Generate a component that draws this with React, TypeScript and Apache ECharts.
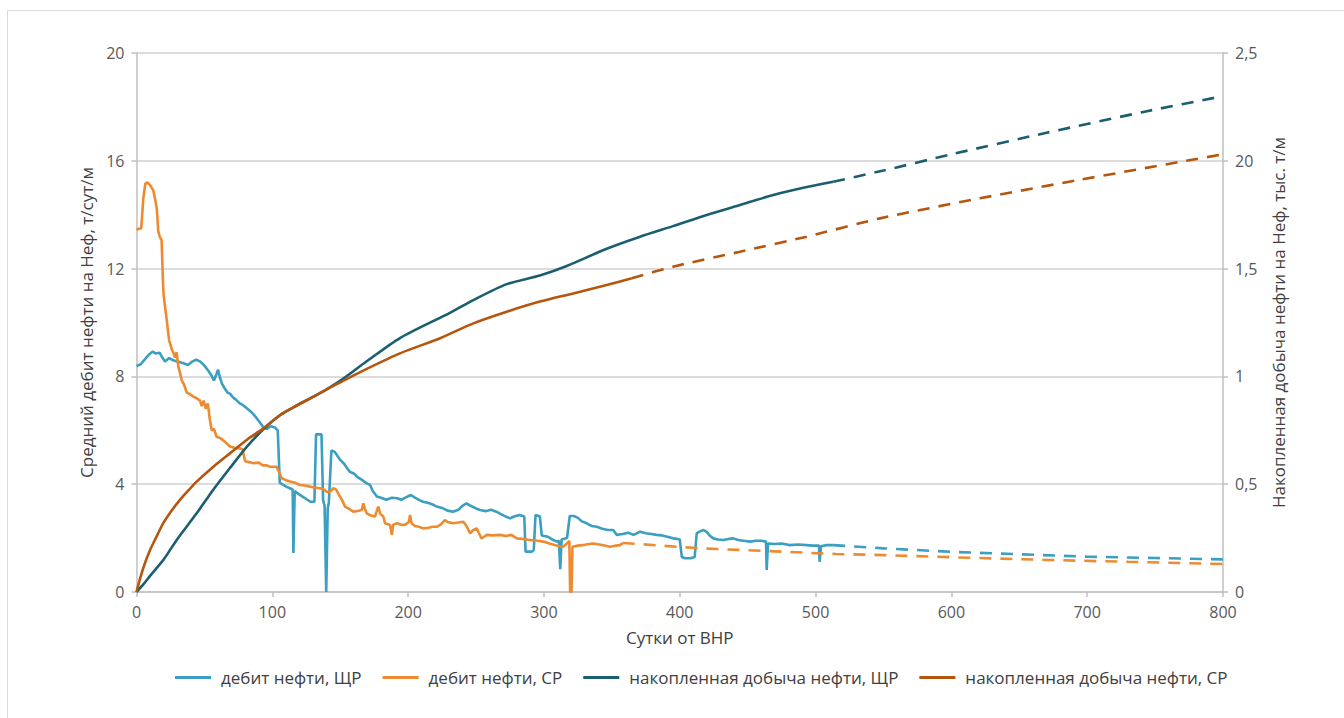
import React, { useEffect, useRef } from "react";
import * as echarts from "echarts";

const xTicks = { min: 0, max: 800, interval: 100 };
const rightTickLabels = ["0", "0,5", "1", "1,5", "20", "2,5"];

const seriesNames = [
  "дебит нефти, ЩР",
  "дебит нефти, СР",
  "накопленная добыча нефти, ЩР",
  "накопленная добыча нефти, СР",
];

// дебит нефти, ЩР (т/сут/м) — фактические данные
const rateShrActual: [number, number][] = [
  [0, 8.38], [3, 8.45], [6, 8.62], [9, 8.8], [12, 8.92], [14, 8.85], [17, 8.88], [19, 8.7],
  [21, 8.55], [24, 8.68], [27, 8.6], [30, 8.55], [34, 8.5], [38, 8.42], [41, 8.55], [44, 8.62],
  [47, 8.55], [50, 8.4], [53, 8.2], [55, 8.05], [57, 7.85], [59, 8.1], [60, 8.25], [61.5, 7.95],
  [63, 7.72], [65, 7.55], [67, 7.4], [69, 7.35], [71, 7.22], [73, 7.15], [76, 7.0], [78, 6.95],
  [81, 6.83], [84, 6.7], [86, 6.6], [88.5, 6.45], [91, 6.28], [93.5, 6.1], [96, 6.05], [99, 6.15],
  [102, 6.1], [104, 6.0], [105.5, 4.05], [108, 3.98], [110.5, 3.9], [113, 3.85], [115, 3.8],
  [115.5, 1.45], [116.5, 3.75], [119, 3.65], [122, 3.55], [125, 3.45], [128, 3.35], [131, 3.35],
  [132.2, 5.85], [136.2, 5.85], [137.4, 3.4], [138.5, 3.2], [139.7, 0], [140.8, 3.1], [141.6, 3.3],
  [143.5, 5.25], [146, 5.2], [148, 5.05], [150, 4.9], [153, 4.75], [155, 4.6], [157, 4.46],
  [160, 4.4], [163, 4.25], [166, 4.16], [169, 4.05], [172, 3.97], [174, 3.75], [177, 3.54],
  [180, 3.5], [184, 3.42], [188, 3.5], [192, 3.48], [195, 3.42], [198, 3.5], [202, 3.6],
  [205, 3.5], [208, 3.42], [211, 3.35], [215, 3.3], [218, 3.25], [221, 3.17], [225, 3.12],
  [229, 3.02], [233, 2.98], [237, 3.05], [240, 3.2], [243, 3.29], [246, 3.2], [250, 3.1],
  [253, 3.04], [257, 3.0], [261, 3.05], [265, 2.98], [268, 2.9], [272, 2.8], [275, 2.73],
  [278, 2.8], [282, 2.86], [285.5, 2.8], [286.5, 1.5], [291, 1.5], [292.5, 1.55], [293.8, 2.86],
  [297, 2.8], [298.4, 2.1], [303, 2.05], [306, 1.95], [309.5, 1.87], [311, 1.9], [312, 0.85],
  [313, 1.95], [317, 2.0], [319, 2.82], [322, 2.82], [325, 2.75], [328, 2.62], [331.5, 2.55],
  [335, 2.45], [339, 2.42], [343, 2.35], [347, 2.3], [351, 2.3], [353.5, 2.12], [358, 2.15],
  [362, 2.2], [366, 2.12], [370.8, 2.24], [375, 2.18], [379, 2.15], [383, 2.12], [387, 2.1],
  [391, 2.05], [395, 1.99], [398, 1.97], [400, 1.95], [401.5, 1.3], [404, 1.25], [408, 1.25],
  [411, 1.3], [412.5, 2.18], [415, 2.25], [417.5, 2.3], [420, 2.22], [422, 2.1], [424.7, 1.99],
  [428, 1.95], [432, 1.93], [436, 1.97], [439.5, 1.99], [443, 1.93], [447, 1.9], [451.8, 1.87],
  [456, 1.9], [460, 1.9], [463.5, 1.87], [464, 0.82], [465, 1.8], [470, 1.78], [475, 1.8],
  [481, 1.74], [487, 1.76], [493.5, 1.74], [498, 1.72], [502.5, 1.72], [503, 1.12], [504, 1.7],
  [508, 1.74], [513, 1.74],
];
// дебит нефти, ЩР — прогноз
const rateShrForecast: [number, number][] = [
  [513, 1.74], [550, 1.62], [600, 1.49], [650, 1.4], [700, 1.31], [750, 1.26], [800, 1.21],
];

// дебит нефти, СР — фактические данные
const rateSrActual: [number, number][] = [
  [0, 13.45], [3.5, 13.5], [5, 14.6], [6.5, 15.15], [8, 15.2], [10, 15.1], [12.4, 14.9], [14, 14.5],
  [15, 14.2], [16, 13.4], [17, 13.2], [18.5, 13.05], [19.5, 11.5], [20, 11.0], [22, 10.2],
  [24, 9.35], [26, 9.0], [27, 8.9], [28.3, 8.7], [29.5, 8.9], [30.8, 8.35], [32, 8.15],
  [33.3, 7.85], [35, 7.7], [37, 7.4], [39, 7.35], [41.8, 7.25], [44, 7.2], [46.8, 7.1], [48, 6.9],
  [49.5, 7.1], [51, 6.8], [52.5, 7.0], [54, 6.4], [55.4, 6.0], [57, 6.05], [59, 5.76], [62, 5.7],
  [65, 5.58], [68.8, 5.4], [72, 5.35], [76, 5.33], [78, 5.3], [80, 4.85], [83, 4.82], [86, 4.78],
  [90, 4.8], [93, 4.7], [96, 4.7], [98, 4.65], [103, 4.65], [105, 4.45], [107, 4.22], [110, 4.15],
  [113, 4.1], [117, 4.05], [120.4, 3.97], [124, 3.95], [127.8, 3.91], [131, 3.88], [135, 3.85],
  [138, 3.8], [140, 3.72], [142.5, 3.72], [145, 3.85], [147, 3.8], [149.8, 3.54], [151.5, 3.4],
  [153.5, 3.17], [156, 3.1], [159.6, 2.98], [162, 3.0], [165.8, 3.04], [167, 3.29], [168, 3.1],
  [169.5, 2.92], [172, 2.85], [175.6, 2.8], [178, 3.17], [179.5, 2.9], [181.7, 2.8], [183, 2.55],
  [186.7, 2.49], [188, 2.12], [189, 2.5], [192, 2.55], [195, 2.49], [198, 2.5], [200.5, 2.6],
  [201.4, 2.86], [202.5, 2.55], [205, 2.45], [208, 2.42], [211, 2.36], [215, 2.38], [218, 2.42],
  [221, 2.42], [224, 2.5], [227, 2.67], [229, 2.6], [233, 2.55], [237, 2.58], [240.6, 2.61],
  [243, 2.45], [245.6, 2.18], [248, 2.3], [250.5, 2.36], [252, 2.2], [254, 1.99], [256, 2.05],
  [257.9, 2.12], [262, 2.1], [267.7, 2.12], [272, 2.08], [276, 2.12], [280, 1.99], [284, 1.97],
  [289.8, 1.93], [295, 1.9], [299.6, 1.87], [304, 1.8], [308, 1.74], [311, 1.7], [314, 1.68],
  [317, 1.8], [318.7, 1.9], [319.3, 0], [320.3, 0], [321, 1.68], [325, 1.72], [330, 1.75],
  [336, 1.8], [342, 1.75], [348.7, 1.68], [353, 1.72], [356, 1.74], [358, 1.82],
];
// дебит нефти, СР — прогноз
const rateSrForecast: [number, number][] = [
  [358, 1.82], [415, 1.62], [460, 1.53], [515, 1.41], [550, 1.37], [600, 1.29], [670, 1.19],
  [730, 1.12], [800, 1.04],
];

// накопленная добыча нефти, ЩР (тыс. т/м) — факт
const cumShrActual: [number, number][] = [
  [0, 0], [5, 0.035], [10, 0.075], [19.7, 0.148], [30, 0.245], [44.3, 0.365], [56, 0.47],
  [68.8, 0.575], [81, 0.672], [93.4, 0.755], [105.7, 0.82], [118, 0.865], [130, 0.905],
  [140, 0.94], [152.3, 0.99], [169.5, 1.07], [194, 1.178], [230.8, 1.295],
  [248, 1.354], [272.6, 1.428], [297, 1.468], [316.8, 1.512], [346.2, 1.592], [370.8, 1.648],
  [395, 1.697], [419.9, 1.749], [444.3, 1.795], [468.9, 1.841], [493.5, 1.878], [513, 1.903],
];
// накопленная добыча нефти, ЩР — прогноз
const cumShrForecast: [number, number][] = [
  [513, 1.903], [550, 1.955], [600, 2.03], [670, 2.13], [744, 2.23], [800, 2.3],
];

// накопленная добыча нефти, СР — факт
const cumSrActual: [number, number][] = [
  [0, 0], [3, 0.07], [6, 0.13], [10, 0.195], [15, 0.26], [19.7, 0.319], [25, 0.37], [32, 0.427],
  [38, 0.47], [44.3, 0.512], [56.6, 0.581], [68.8, 0.643], [81.1, 0.705], [93.4, 0.759],
  [105.7, 0.821], [118, 0.865], [130, 0.905], [140, 0.94], [152.3, 0.98], [169.5, 1.035],
  [194, 1.107], [223.5, 1.177], [248, 1.246], [272.6, 1.3], [297, 1.347], [321.6, 1.385],
  [346.2, 1.424], [364.7, 1.455],
];
// накопленная добыча нефти, СР — прогноз
const cumSrForecast: [number, number][] = [
  [364.7, 1.455], [395, 1.509], [444.3, 1.578], [493.5, 1.648], [547.5, 1.733], [621, 1.826],
  [694.7, 1.912], [768.4, 1.995], [800, 2.03],
];

const colors = ["#3A9FC0", "#EE8A2F", "#1A5E70", "#B5560F"];
const FONT = "'Open Sans', 'Noto Sans', sans-serif";

export default function App() {
  const ref = useRef<HTMLDivElement>(null);

  useEffect(() => {
    if (!ref.current) return;
    const chart = echarts.init(ref.current, null, { renderer: "svg" });

    const mk = (
      name: string,
      data: [number, number][],
      color: string,
      yAxisIndex: number,
      dashed: boolean,
      z: number,
      smooth: boolean
    ) => ({
      name,
      type: "line",
      data,
      yAxisIndex,
      color,
      showSymbol: false,
      symbol: "none",
      smooth: smooth ? 0.25 : false,
      z,
      lineStyle: {
        color,
        width: 2.6,
        type: dashed ? [12, 9] : "solid",
        cap: "butt",
      },
      emphasis: { disabled: true },
    });

    const axisLine = { show: true, lineStyle: { color: "#BFBFBF", width: 1.5 } };
    const axisTick = { show: true, length: 5, lineStyle: { color: "#BFBFBF", width: 1.5 } };
    const tickLabel = { fontFamily: FONT, fontSize: 16, color: "#595959", margin: 12 };
    const nameStyle = { fontFamily: FONT, fontSize: 17, color: "#404040" };

    chart.setOption({
      animation: false,
      textStyle: { fontFamily: FONT },
      graphic: [
        {
          type: "rect",
          shape: { x: 7.5, y: 10.5, width: 1400, height: 800 },
          style: { fill: "none", stroke: "#D9D9D9", lineWidth: 1 },
          silent: true,
          z: -1,
        },
      ],
      grid: { left: 136.5, right: 121, top: 53, bottom: 126, containLabel: false },
      legend: {
        left: 170,
        top: 664,
        icon: "rect",
        itemWidth: 36,
        itemHeight: 3,
        itemGap: 21,
        textStyle: { fontFamily: FONT, fontSize: 17, color: "#404040", padding: [0, 0, 0, 5] },
        data: seriesNames,
      },
      xAxis: {
        type: "value",
        min: xTicks.min,
        max: xTicks.max,
        interval: xTicks.interval,
        name: "Сутки от ВНР",
        nameLocation: "middle",
        nameGap: 37,
        nameTextStyle: nameStyle,
        axisLine,
        axisTick,
        axisLabel: tickLabel,
        splitLine: { show: false },
      },
      yAxis: [
        {
          type: "value",
          min: 0,
          max: 20,
          interval: 4,
          position: "left",
          name: "Средний дебит нефти на Неф, т/сут/м",
          nameLocation: "middle",
          nameRotate: 90,
          nameGap: 42,
          nameTextStyle: nameStyle,
          axisLine,
          axisTick,
          axisLabel: tickLabel,
          splitLine: { show: true, lineStyle: { color: "#D0D0D0", width: 1.5 } },
        },
        {
          type: "value",
          min: 0,
          max: 2.5,
          interval: 0.5,
          position: "right",
          name: "Накопленная добыча нефти на Неф, тыс. т/м",
          nameLocation: "middle",
          nameRotate: 90,
          nameGap: 47,
          nameTextStyle: nameStyle,
          axisLine,
          axisTick,
          axisLabel: {
            ...tickLabel,
            formatter: (v: number) => rightTickLabels[Math.round(v / 0.5)] ?? String(v),
          },
          splitLine: { show: false },
        },
      ],
      series: [
        mk(seriesNames[0], rateShrActual, colors[0], 0, false, 2, false),
        mk(seriesNames[0], rateShrForecast, colors[0], 0, true, 2, false),
        mk(seriesNames[1], rateSrActual, colors[1], 0, false, 3, false),
        mk(seriesNames[1], rateSrForecast, colors[1], 0, true, 3, false),
        mk(seriesNames[2], cumShrActual, colors[2], 1, false, 4, true),
        mk(seriesNames[2], cumShrForecast, colors[2], 1, true, 4, true),
        mk(seriesNames[3], cumSrActual, colors[3], 1, false, 5, true),
        mk(seriesNames[3], cumSrForecast, colors[3], 1, true, 5, true),
      ],
    });

    return () => chart.dispose();
  }, []);

  return (
    <div
      ref={ref}
      style={{ position: "fixed", left: 0, top: 0, width: 1344, height: 718, background: "#fff" }}
    />
  );
}
